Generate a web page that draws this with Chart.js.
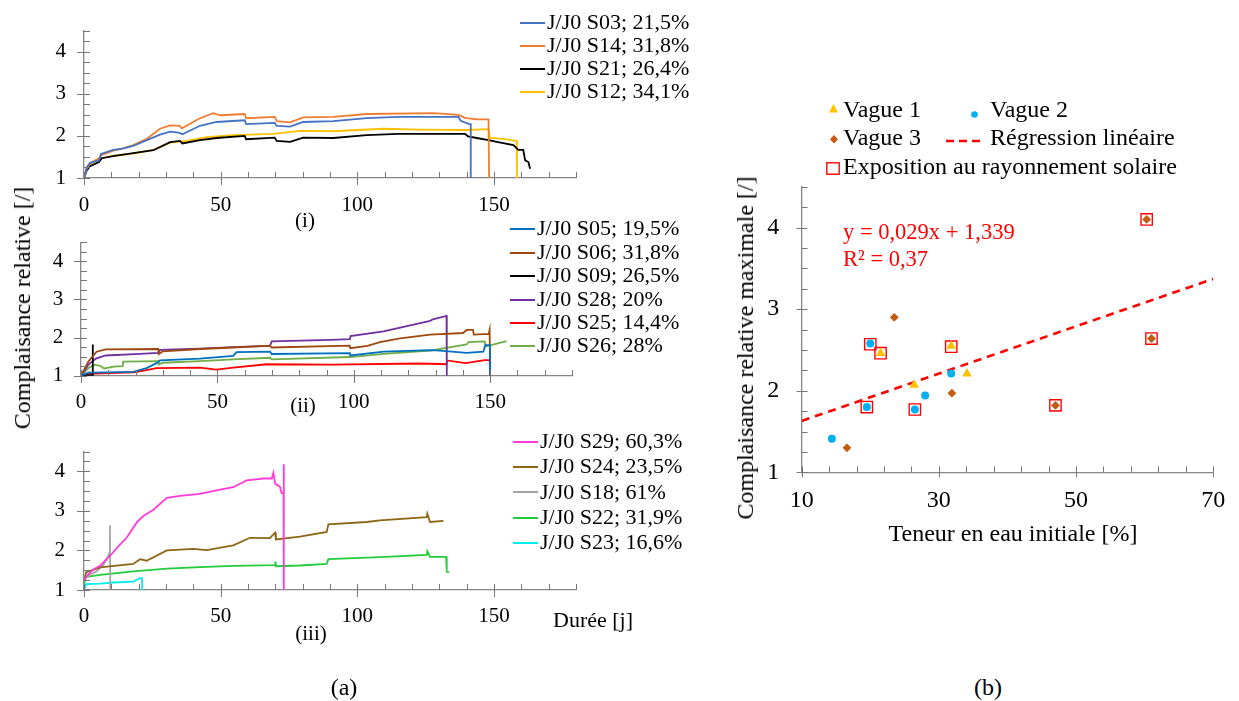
<!DOCTYPE html>
<html>
<head>
<meta charset="utf-8">
<script src="https://cdn.jsdelivr.net/npm/chart.js@4.4.1/dist/chart.umd.min.js"></script>
<style>
  body { margin: 0; background: #fff; width: 1239px; height: 701px; position: relative; overflow: hidden;
         font-family: 'Liberation Serif', 'Times New Roman', serif; color: #000; }
  canvas { position: absolute; }
  .t { position: absolute; white-space: nowrap; line-height: 1; }
  .ln { position: absolute; height: 2px; }
</style>
</head>
<body>
<canvas id="c1" width="600" height="225" style="left:0;top:0"></canvas>
<canvas id="c2" width="600" height="212" style="left:0;top:212px"></canvas>
<canvas id="c3" width="600" height="220" style="left:0;top:420px"></canvas>
<canvas id="c4" width="539" height="385" style="left:700px;top:150px"></canvas>
<script>
// ---- tick labels
const ticksY = [1, 2, 3, 4];
const ticksXa = [0, 50, 100, 150];
const ticksXb = [10, 30, 50, 70];

// ---- (a)(i) : durée [j] / J/J0
const labels1 = ['J/J0 S03; 21,5%', 'J/J0 S14; 31,8%', 'J/J0 S21; 26,4%', 'J/J0 S12; 34,1%'];
const S03 = [[0,1],[1,1.25],[2.2,1.36],[5.5,1.42],[6.2,1.57],[10.7,1.67],[14,1.7],[18,1.76],[23,1.9],[27.8,2.03],[31.5,2.1],[34.5,2.08],[36,2.04],[42.4,2.24],[48.5,2.33],[58.8,2.37],[59.3,2.28],[69.8,2.31],[70.5,2.24],[75.4,2.22],[80.2,2.33],[91.2,2.35],[103.4,2.42],[115,2.45],[137,2.45],[137.8,2.36],[140.9,2.28],[141.5,2.28],[141.5,1]];
const S14 = [[0,1],[1,1.22],[2.2,1.35],[5.5,1.47],[6.5,1.55],[10.7,1.65],[14,1.7],[18,1.78],[23,1.93],[27.8,2.17],[31.5,2.25],[35,2.24],[35.8,2.18],[42.4,2.42],[47.3,2.54],[49.8,2.49],[58.8,2.52],[59.3,2.42],[69.8,2.45],[70.5,2.35],[75.4,2.32],[80.2,2.44],[91.2,2.45],[103.4,2.52],[128,2.54],[137,2.5],[139.4,2.43],[143.7,2.39],[148,2.39],[148.2,1]];
const S21 = [[0,1],[1,1.18],[2.2,1.28],[5.5,1.38],[6.5,1.47],[10.7,1.52],[18,1.59],[25.4,1.66],[31.5,1.85],[35.1,1.88],[36,1.82],[42.4,1.9],[48.5,1.95],[58.8,2.0],[59.3,1.92],[69.8,1.96],[70.5,1.88],[75.4,1.86],[80.2,1.96],[91.2,1.95],[103.4,2.02],[115,2.05],[139.4,2.05],[140.5,1.99],[143.7,1.95],[148,1.9],[151,1.86],[157.1,1.78],[158.9,1.67],[160.7,1.67],[161.4,1.42],[162.6,1.38],[163.2,1.22]];
const S12 = [[0,1],[1,1.2],[2.2,1.31],[5.9,1.46],[10.7,1.53],[18,1.58],[25.4,1.67],[31.5,1.84],[37.6,1.88],[44.9,1.97],[54.6,2.02],[69.3,2.05],[79,2.12],[91.2,2.11],[109.5,2.17],[122.9,2.15],[140,2.14],[148,2.16],[148.5,1.95],[153.3,1.93],[158.3,1.88],[158.4,1]];

// ---- (a)(ii)
const labels2 = ['J/J0 S05; 19,5%', 'J/J0 S06; 31,8%', 'J/J0 S09; 26,5%', 'J/J0 S28; 20%', 'J/J0 S25; 14,4%', 'J/J0 S26; 28%'];
const S05 = [[0,1],[2.7,1.08],[19.2,1.1],[24,1.2],[27.7,1.33],[29,1.4],[43.6,1.45],[55.8,1.52],[57,1.62],[69.3,1.63],[69.9,1.57],[98.6,1.59],[98.7,1.53],[111,1.63],[128,1.67],[131.6,1.66],[141.4,1.6],[147.5,1.63],[148.2,1.8],[149.9,1.8],[150,1]];
const S06 = [[0,1],[2.7,1.37],[5.7,1.63],[9.1,1.69],[28.3,1.7],[28.5,1.57],[30,1.64],[43.6,1.7],[55.8,1.74],[69.3,1.79],[69.9,1.74],[98.5,1.79],[98.7,1.72],[105,1.78],[109.6,1.88],[117,1.98],[128,2.08],[140,2.12],[141.4,2.2],[143.7,2.2],[144,2.08],[149.5,2.1],[149.8,2.2],[150,1]];
const S09 = [[0,1],[4.2,1.02],[4.3,1.82],[4.35,1]];
const S28 = [[0,1],[2.7,1.29],[5.5,1.45],[9,1.53],[21.6,1.57],[28.3,1.6],[29,1.68],[43.6,1.71],[55.8,1.75],[69.3,1.78],[69.9,1.9],[91.3,1.94],[98.6,1.96],[98.8,2.04],[110.9,2.16],[128,2.44],[129,2.48],[134,2.57],[134.1,1]];
const S25 = [[0,1],[2.7,1.05],[19.2,1.09],[22,1.12],[27.7,1.2],[43.6,1.21],[49.6,1.16],[55.8,1.21],[68,1.3],[92.4,1.29],[124,1.32],[134,1.3],[134.2,1.4],[141,1.33],[148,1.41],[149.8,1.41],[150,1]];
const S26 = [[0,1],[2.7,1.2],[5,1.29],[7,1.26],[8.5,1.19],[12,1.24],[15.3,1.25],[15.5,1.37],[28.3,1.38],[28.5,1.29],[30,1.34],[43.6,1.38],[55.8,1.43],[69.3,1.47],[69.9,1.43],[98.6,1.49],[111,1.57],[128,1.66],[141.4,1.82],[142,1.88],[148,1.9],[148.5,1.77],[156,1.91]];

// ---- (a)(iii)
const labels3 = ['J/J0 S29; 60,3%', 'J/J0 S24; 23,5%', 'J/J0 S18; 61%', 'J/J0 S22; 31,9%', 'J/J0 S23; 16,6%'];
const S29 = [[0,1.25],[1,1.35],[3.4,1.52],[6,1.62],[9.5,1.86],[12.5,2.1],[15.6,2.32],[19.3,2.71],[21.7,2.87],[25.4,3.03],[30.3,3.33],[35.1,3.38],[42.4,3.43],[49.8,3.54],[54.6,3.6],[59.5,3.77],[65.6,3.82],[68.7,3.82],[69.3,3.96],[69.9,3.69],[71.7,3.61],[72.3,3.45],[73,3.45],[73.1,4.18],[73.1,1]];
const S24 = [[0,1.23],[0.8,1.45],[5.9,1.57],[18,1.66],[20.5,1.78],[22.9,1.74],[30.3,2.0],[40,2.04],[44.9,2.01],[54.6,2.13],[60.7,2.32],[68,2.31],[69.9,2.45],[70.2,2.28],[79,2.35],[88.8,2.47],[89.4,2.66],[103.4,2.72],[108.3,2.76],[125.4,2.84],[125.6,2.93],[126.6,2.72],[131.5,2.75]];
const S18 = [[0,1.28],[2.5,1.4],[4.5,1.47],[7,1.62],[8.8,1.86],[9.4,1.95],[9.5,2.64],[9.6,1]];
const S22 = [[0,1.15],[0.8,1.33],[5.9,1.38],[18,1.47],[30.3,1.54],[42.4,1.58],[54.6,1.61],[69.9,1.63],[70,1.72],[70.3,1.6],[79,1.62],[88.8,1.66],[89.4,1.78],[108.3,1.83],[125.4,1.89],[125.6,1.98],[126.6,1.84],[132.5,1.84],[132.7,1.46],[133.6,1.45]];
const S23 = [[0,1],[0.8,1.15],[5.9,1.16],[10.7,1.19],[18,1.21],[20.5,1.3],[21.2,1.3],[21.3,1]];

// ---- (b) teneur en eau initiale [%] / complaisance relative maximale
const vague1X = [21.5, 26.4, 31.8, 34.1];
const vague1Y = [2.46, 2.07, 2.55, 2.21];
const vague2X = [14.4, 19.5, 20, 26.5, 28, 31.8];
const vague2Y = [1.41, 1.80, 2.58, 1.77, 1.94, 2.21];
const vague3X = [16.6, 23.5, 31.9, 47, 60.3, 61];
const vague3Y = [1.30, 2.90, 1.97, 1.82, 4.10, 2.64];
const solaireX = [20, 19.5, 26.5, 21.5, 31.8, 47, 60.3, 61];
const solaireY = [2.57, 1.80, 1.77, 2.46, 2.54, 1.82, 4.10, 2.64];
const regX = [10, 70];
const regY = [1.63, 3.37];

const FONT = "'Liberation Serif', 'Times New Roman', serif";
Chart.defaults.font.family = FONT;
Chart.defaults.color = '#000';
const axisGrey = '#868686';

const pts = arr => arr.map(p => ({ x: p[0], y: p[1] }));
const zip = (xs, ys) => xs.map((x, i) => ({ x: x, y: ys[i] }));

// petits traits : majeurs croisés, mineurs vers l'intérieur
function drawTicks(chart, o) {
    const ctx = chart.ctx, xs = chart.scales.x, ys = chart.scales.y;
    const left = Math.round(chart.chartArea.left), bottom = Math.round(chart.chartArea.bottom);
    ctx.save();
    ctx.strokeStyle = '#777777';
    ctx.lineWidth = 1;
    ctx.beginPath();
    const kx = Math.round(o.xMajor / o.xMinor);
    const nx = Math.round((o.xMax - o.xMin) / o.xMinor);
    for (let i = 0; i <= nx; i++) {
        const px = Math.round(xs.getPixelForValue(o.xMin + i * o.xMinor)) + 0.5;
        ctx.moveTo(px, bottom - o.inner);
        ctx.lineTo(px, bottom + (i % kx === 0 ? o.outer : 0));
    }
    const ky = Math.round(o.yMajor / o.yMinor);
    const ny = Math.round(3.5 / o.yMinor);
    for (let i = 0; i <= ny; i++) {
        const py = Math.round(ys.getPixelForValue(1 + i * o.yMinor)) + 0.5;
        ctx.moveTo(left - (i % ky === 0 ? o.outer : 0), py);
        ctx.lineTo(left + o.inner, py);
    }
    ctx.stroke();
    ctx.restore();
}
function tickMarks(o) {
    return { id: 'tickMarks', afterDraw(chart) { drawTicks(chart, o); } };
}

function scalesFor(c) {
    return {
        x: {
            type: 'linear', min: c.xMin, max: c.xMax,
            grid: { display: false, drawTicks: false },
            border: { display: true, color: axisGrey, width: 1.3 },
            ticks: { padding: c.xPad, font: { size: c.tickSize }, color: '#000', maxRotation: 0, autoSkip: false },
            afterBuildTicks: s => { s.ticks = c.xTicks.map(v => ({ value: v })); },
            afterFit: s => { s.height = c.xH; }
        },
        y: {
            type: 'linear', min: 1, max: 4.5,
            grid: { display: false, drawTicks: false },
            border: { display: true, color: axisGrey, width: 1.3 },
            ticks: { padding: c.yPad, font: { size: c.tickSize }, color: '#000', autoSkip: false },
            afterBuildTicks: s => { s.ticks = ticksY.map(v => ({ value: v })); },
            afterFit: s => { s.width = c.yW; }
        }
    };
}

const tickA = { xMin: 0, xMax: 180, xMinor: 10, xMajor: 50, yMinor: 0.25, yMajor: 1, inner: 6, outer: 7 };
const tickB = { xMin: 10, xMax: 70, xMinor: 4, xMajor: 20, yMinor: 0.25, yMajor: 1, inner: 5.6, outer: 5.4 };

function lineChart(id, series, colors, c) {
    return new Chart(document.getElementById(id), {
        type: 'line',
        data: {
            datasets: series.map((s, i) => ({
                data: pts(s), borderColor: colors[i], borderWidth: 1.8,
                pointRadius: 0, tension: 0, fill: false
            }))
        },
        options: {
            responsive: false, animation: false,
            layout: { padding: c.pad, autoPadding: false },
            scales: scalesFor(c),
            plugins: { legend: { display: false }, tooltip: { enabled: false } }
        },
        plugins: [tickMarks(tickA)]
    });
}

const colors1 = ['#4472C4', '#ED7D31', '#000000', '#FFC000'];
const colors2 = ['#0070C0', '#9E480E', '#000000', '#7030A0', '#FF0000', '#70AD47'];
const colors3 = ['#FF3BD9', '#8C6614', '#A5A5A5', '#22CC3A', '#00EEF0'];

const panelBase = { xMin: 0, xMax: 180, xTicks: ticksXa, tickSize: 21, yW: 60 };
// zones de tracé : (i) 84..576 x 14..178 ; (ii) 81..572 x 228..376 ; (iii) 84..576 x 440..590
lineChart('c1', [S03, S14, S21, S12], colors1,
    Object.assign({}, panelBase, { xPad: 15, yPad: 18, xH: 44, pad: { left: 24, right: 24, top: 14.2, bottom: 3 } }));
lineChart('c2', [S05, S06, S09, S28, S25, S26], colors2,
    Object.assign({}, panelBase, { xPad: 13.7, yPad: 17.7, xH: 44, pad: { left: 21, right: 28, top: 16, bottom: 4.3 } }));
lineChart('c3', [S29, S24, S18, S22, S23], colors3,
    Object.assign({}, panelBase, { xPad: 14, yPad: 19, xH: 44, pad: { left: 24, right: 24, top: 20.2, bottom: 6 } }));

// ---- (b)
const cB = { xMin: 10, xMax: 70, xTicks: ticksXb, tickSize: 24, yW: 70, xPad: 13.8, yPad: 22.4, xH: 50 };
new Chart(document.getElementById('c4'), {
    type: 'scatter',
    data: {
        datasets: [
            { label: 'Vague 1', data: zip(vague1X, vague1Y), pointStyle: 'triangle', pointRadius: 5.6,
              backgroundColor: '#FFC000', borderColor: '#FFC000', borderWidth: 0 },
            { label: 'Vague 2', data: zip(vague2X, vague2Y), pointStyle: 'circle', pointRadius: 4,
              backgroundColor: '#00B0F0', borderColor: '#00B0F0', borderWidth: 0 },
            { label: 'Vague 3', data: zip(vague3X, vague3Y), pointStyle: 'rectRot', pointRadius: 4.4,
              backgroundColor: '#C55A11', borderColor: '#C55A11', borderWidth: 0 },
            { label: 'Exposition au rayonnement solaire', data: zip(solaireX, solaireY), pointStyle: 'rect',
              pointRadius: 8, backgroundColor: 'rgba(0,0,0,0)', borderColor: '#FF0000', borderWidth: 1.4 },
            { type: 'line', label: 'Régression linéaire', data: zip(regX, regY), borderColor: '#FF0000',
              borderWidth: 2.6, borderDash: [8, 6], pointRadius: 0, fill: false, tension: 0 }
        ]
    },
    options: {
        responsive: false, animation: false,
        layout: { padding: { left: 31.7, right: 13, top: 26.9, bottom: 12.7 }, autoPadding: false },
        scales: scalesFor(cB),
        plugins: { legend: { display: false }, tooltip: { enabled: false } }
    },
    plugins: [tickMarks(tickB)]
});

// ---- textes HTML
function text(str, x, base, size, opt) {
    opt = opt || {};
    const d = document.createElement('div');
    d.className = 't';
    d.textContent = str;
    d.style.fontSize = size + 'px';
    d.style.top = (base - 0.8375 * size) + 'px';
    d.style.left = x + 'px';
    if (opt.center) d.style.transform = 'translateX(-50%)';
    if (opt.color) d.style.color = opt.color;
    document.body.appendChild(d);
    return d;
}
function vtext(str, cx, cy, size) {
    const d = document.createElement('div');
    d.className = 't';
    d.textContent = str;
    d.style.fontSize = size + 'px';
    d.style.left = cx + 'px';
    d.style.top = cy + 'px';
    d.style.transform = 'translate(-50%,-50%) rotate(-90deg)';
    document.body.appendChild(d);
}
function legendBlock(labels, colors, x1, x2, y0, dy, size) {
    labels.forEach((lab, i) => {
        const y = y0 + i * dy;
        const l = document.createElement('div');
        l.className = 'ln';
        l.style.left = x1 + 'px';
        l.style.width = (x2 - x1) + 'px';
        l.style.top = (y - 1) + 'px';
        l.style.background = colors[i];
        document.body.appendChild(l);
        text(lab, x2 + 2, y + 6.6, size);
    });
}
legendBlock(labels1, colors1, 520, 545, 22.7, 23, 22);
legendBlock(labels2, colors2, 510, 535, 229.3, 23.4, 22);
legendBlock(labels3, colors3, 513, 538, 442, 25.2, 22);

text('(i)', 305, 228, 21, { center: true });
text('(ii)', 303, 413, 21, { center: true });
text('(iii)', 311, 641, 21, { center: true });
text('Durée [j]', 553, 627, 22);
text('(a)', 344, 695, 24, { center: true });
text('(b)', 988, 695, 24, { center: true });
vtext('Complaisance relative [/]', 22, 308, 24);
vtext('Complaisance relative maximale [/]', 745, 347.5, 24);
text('Teneur en eau initiale [%]', 1013, 541, 24, { center: true });
text('y = 0,029x + 1,339', 843, 240, 22.5, { color: '#FF0000' });
text('R² = 0,37', 843, 266.7, 22.5, { color: '#FF0000' });

// légende (b)
const svgNS = 'http://www.w3.org/2000/svg';
function icon(x, y, w, h, inner) {
    const s = document.createElementNS(svgNS, 'svg');
    s.setAttribute('width', w); s.setAttribute('height', h);
    s.style.position = 'absolute'; s.style.left = x + 'px'; s.style.top = y + 'px';
    s.innerHTML = inner;
    document.body.appendChild(s);
}
icon(829, 103.5, 9, 9, '<polygon points="4.5,0 9,8.5 0,8.5" fill="#FFC000"/>');
icon(970.5, 110.5, 7, 7, '<circle cx="3.5" cy="3.5" r="3.3" fill="#00B0F0"/>');
icon(829.5, 135, 8, 8.5, '<polygon points="4,0 8,4.2 4,8.5 0,4.2" fill="#C55A11"/>');
icon(946, 139, 38, 4, '<line x1="0" y1="2" x2="38" y2="2" stroke="#FF0000" stroke-width="2.4" stroke-dasharray="8,5"/>');
icon(826, 162, 14, 13, '<rect x="0.8" y="0.8" width="12.4" height="11.4" fill="none" stroke="#FF0000" stroke-width="1.4"/>');
text('Vague 1', 843, 116.7, 24);
text('Vague 2', 990, 116.7, 24);
text('Vague 3', 843, 145, 24);
text('Régression linéaire', 990, 145, 24);
text('Exposition au rayonnement solaire', 843, 174.3, 24);
</script>
</body>
</html>
